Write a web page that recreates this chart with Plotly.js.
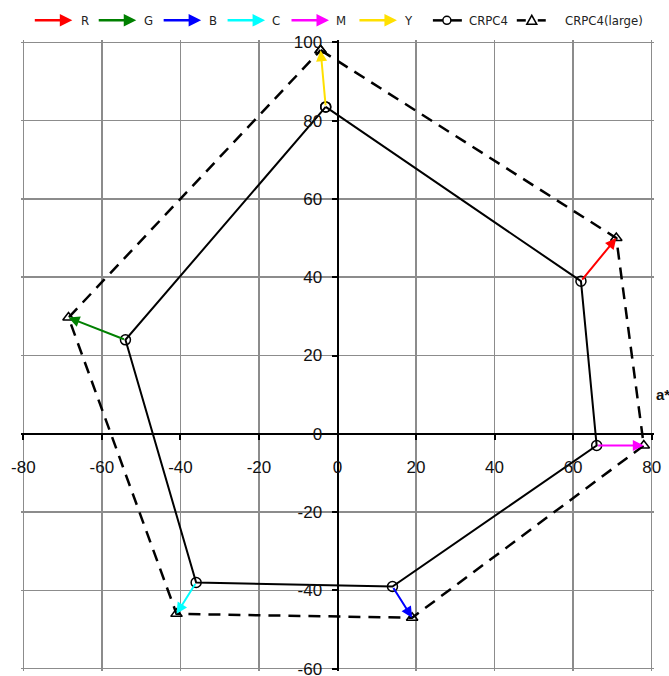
<!DOCTYPE html>
<html>
<head>
<meta charset="utf-8">
<script src="https://cdn.plot.ly/plotly-3.0.1.min.js"></script>
<style>html,body{margin:0;padding:0;background:#fff;}#chart{width:669px;height:676px;}</style>
</head>
<body>
<div id="chart"></div>
<script>
// Polygon order of the six primaries
const order = ['Y', 'R', 'M', 'B', 'C', 'G'];
// CRPC4 gamut (a*, b*)
const crpcA = [-3, 62, 66, 14, -36, -54];
const crpcB = [83.5, 39, -3, -39, -38, 24];
// CRPC4(large) gamut (a*, b*)
const largeA = [-4.3, 71, 78, 19, -41, -68.5];
const largeB = [98, 50, -3, -47, -46, 29.7];
// Legend entries for the arrows
const arrowNames = ['R', 'G', 'B', 'C', 'M', 'Y'];
const arrowColors = {R: '#ff0000', G: '#008000', B: '#0000ff', C: '#00ffff', M: '#ff00ff', Y: '#ffe000'};
const xTicks = [-80, -60, -40, -20, 0, 20, 40, 60, 80];
const yTicks = [-60, -40, -20, 0, 20, 40, 60, 80, 100];

const W = 669, H = 676;
const PAD = 0.6;
const X0 = -80 - PAD, X1 = 80 + PAD, Y0 = -60 - PAD, Y1 = 100 + PAD;
const sx = 629 / 160, sy = 627 / 160;
const M = {l: 23 - PAD * sx, r: 669 - 652 - PAD * sx, t: 42 - PAD * sy, b: 676 - 669 - PAD * sy};
const pw = W - M.l - M.r, ph = H - M.t - M.b;
const px2x = p => (p - M.l) / pw;
const px2y = p => (H - M.b - p) / ph;

const close = a => a.concat([a[0]]);

const traces = [
  {x: close(crpcA), y: close(crpcB), type: 'scatter', mode: 'lines+markers', name: 'CRPC4',
   line: {color: '#000', width: 2}, marker: {symbol: 'circle-open', size: 10, color: '#000', line: {width: 1.5}},
   showlegend: false, hoverinfo: 'skip'},
  {x: close(largeA), y: close(largeB), type: 'scatter', mode: 'lines+markers', name: 'CRPC4(large)',
   line: {color: '#000', width: 2.5, dash: '12px,8px'}, marker: {symbol: 'triangle-up-open', size: 10, color: '#000', line: {width: 1.5}},
   showlegend: false, hoverinfo: 'skip'}
];

const annotations = [];
order.forEach((k, i) => {
  annotations.push({x: largeA[i], y: largeB[i], ax: crpcA[i], ay: crpcB[i], xref: 'x', yref: 'y', axref: 'x', ayref: 'y',
    text: '', showarrow: true, arrowhead: 2, arrowsize: 1.1, arrowwidth: 2, arrowcolor: arrowColors[k], standoff: 0});
});

// custom legend
const legY = px2y(20);
const legTips = [72, 136, 201, 265, 329, 397];
const legText = [79, 142, 207, 270, 334, 402];
const legFont = {family: '"DejaVu Sans Condensed", "Liberation Sans Narrow", "Arial Narrow", sans-serif', size: 13, color: '#222'};
arrowNames.forEach((k, i) => {
  annotations.push({x: px2x(legTips[i]), y: legY, xref: 'paper', yref: 'paper', ax: -39, ay: 0,
    text: '', showarrow: true, arrowhead: 2, arrowsize: 1, arrowwidth: 2.5, arrowcolor: arrowColors[k], standoff: 0});
  annotations.push({x: px2x(legText[i]), y: legY, xref: 'paper', yref: 'paper', xanchor: 'left', yanchor: 'middle',
    text: k, showarrow: false, font: legFont});
});
annotations.push({x: px2x(467), y: legY, xref: 'paper', yref: 'paper', xanchor: 'left', yanchor: 'middle', text: 'CRPC4', showarrow: false, font: legFont});
annotations.push({x: px2x(563), y: legY, xref: 'paper', yref: 'paper', xanchor: 'left', yanchor: 'middle', text: 'CRPC4(large)', showarrow: false, font: legFont});
annotations.push({x: px2x(654), y: px2y(395), xref: 'paper', yref: 'paper', xanchor: 'left', yanchor: 'middle', text: '<b>a*</b>', showarrow: false,
  font: {family: 'Arial, "Liberation Sans", sans-serif', size: 15, color: '#111'}});

const shapes = [
  {type: 'line', xref: 'paper', yref: 'paper', x0: px2x(433), x1: px2x(462), y0: legY, y1: legY, line: {color: '#000', width: 2.5}},
  {type: 'circle', xref: 'paper', yref: 'paper', xsizemode: 'pixel', ysizemode: 'pixel', xanchor: px2x(447), yanchor: legY,
   x0: -4, x1: 4, y0: -4, y1: 4, line: {color: '#000', width: 1.5}, fillcolor: '#fff'},
  {type: 'line', xref: 'paper', yref: 'paper', x0: px2x(517), x1: px2x(526), y0: legY, y1: legY, line: {color: '#000', width: 2.5}},
  {type: 'line', xref: 'paper', yref: 'paper', x0: px2x(538), x1: px2x(546), y0: legY, y1: legY, line: {color: '#000', width: 2.5}},
  {type: 'path', xref: 'paper', yref: 'paper', xsizemode: 'pixel', ysizemode: 'pixel', xanchor: px2x(532), yanchor: legY,
   path: 'M -5 -4 L 5 -4 L 0 5 Z', line: {color: '#000', width: 1.5}, fillcolor: '#fff'}
];

const tickFont = {family: 'Arial, "Liberation Sans", sans-serif', size: 17, color: '#111'};
const layout = {
  width: W, height: H,
  margin: M,
  paper_bgcolor: '#fff', plot_bgcolor: '#fff',
  showlegend: false,
  xaxis: {range: [X0, X1], tickvals: xTicks, ticktext: xTicks.map(String), showgrid: true, gridcolor: '#8c8c8c', gridwidth: 1.5,
    zeroline: false, showline: true, linecolor: '#000', linewidth: 2, ticks: 'outside', ticklen: 5, tickwidth: 2, tickcolor: '#000',
    anchor: 'free', position: (0 - Y0) / (Y1 - Y0), tickfont: tickFont, ticklabelstandoff: 13, ticklabeloverflow: 'allow', fixedrange: true},
  yaxis: {range: [Y0, Y1], tickvals: yTicks, ticktext: yTicks.map(String), showgrid: true, gridcolor: '#8c8c8c', gridwidth: 1.5,
    zeroline: false, showline: true, linecolor: '#000', linewidth: 2, ticks: 'outside', ticklen: 5, tickwidth: 2, tickcolor: '#000',
    anchor: 'free', position: (0 - X0) / (X1 - X0), tickfont: tickFont, ticklabelstandoff: 6, ticklabeloverflow: 'allow', fixedrange: true},
  annotations: annotations,
  shapes: shapes
};

Plotly.newPlot('chart', traces, layout, {displayModeBar: false, staticPlot: true});
</script>
</body>
</html>
